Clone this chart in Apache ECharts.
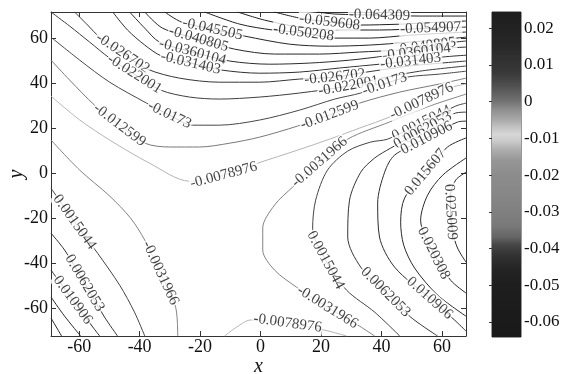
<!DOCTYPE html>
<html>
<head>
<meta charset="utf-8">
<script src="https://cdn.jsdelivr.net/npm/echarts@6/dist/echarts.min.js"></script>
<style>
  html, body { margin: 0; background: #fff; }
  #chart { width: 574px; height: 374px; }
</style>
</head>
<body>
<div id="chart"></div>
<script>
// axis extents and ticks
const xMin = -69.3, xMax = 67.9;
const yMin = -72.4, yMax = 71.6;
const xTicks = [-60, -40, -20, 0, 20, 40, 60];
const yTicks = [-60, -40, -20, 0, 20, 40, 60];

// colour bar
const cbMin = -0.0641, cbMax = 0.0244;
const cbTicks = [-0.06, -0.05, -0.04, -0.03, -0.02, -0.01, 0, 0.01, 0.02];
const cbValues = [-0.0641, -0.05, -0.046, -0.042, -0.039, -0.037, -0.034, -0.03, -0.025, -0.02, -0.016, -0.013,
  -0.011, -0.009, -0.007, -0.005, -0.002, 0, 0.003, 0.005, 0.008, 0.012, 0.015, 0.02, 0.0244];
const cbGrays = [25, 30, 35, 50, 70, 100, 120, 128, 135, 140, 150, 175, 200, 215, 195, 170, 140, 115, 90, 75, 56, 48, 40, 34, 30];

// contour levels, as printed on the chart
const levelText = ['-0.064309', '-0.059608', '-0.054907', '-0.050208', '-0.045505', '-0.040805', '-0.0360104',
  '-0.031403', '-0.026702', '-0.022001', '-0.0173', '-0.012599', '-0.0078976', '-0.0031966', '0.0015044',
  '0.0062053', '0.010906', '0.015607', '0.020308', '0.025009'];

// contour paths, [x, y]
const seg0643 = [[18.8, 71.6], [24.5, 70.7], [39.3, 70.2], [52.6, 69.8], [67.9, 69.8]];
const seg0596 = [[4.6, 71.6], [12.9, 68.9], [22.8, 67.1], [32.7, 65.8], [46.0, 66.2], [59.2, 67.1], [67.9, 67.6]];
const seg0549 = [[-7.6, 71.6], [1.3, 68.0], [12.9, 64.9], [26.1, 63.6], [39.3, 63.6], [56.2, 64.4], [67.9, 64.9]];
const seg0502 = [[-18.5, 71.6], [-6.9, 66.2], [4.0, 63.6], [14.2, 62.4], [24.5, 60.0], [36.0, 60.0], [49.3, 61.3], [67.9, 62.7]];
const seg0455 = [[-31.7, 71.6], [-26.1, 67.1], [-15.9, 64.0], [-5.3, 60.9], [9.6, 57.3], [22.8, 56.4], [36.0, 56.9], [49.3, 58.2], [67.9, 60.4]];
const seg0408 = [[-38.3, 71.6], [-32.4, 64.4], [-20.5, 59.6], [-8.6, 55.1], [4.6, 52.9], [19.5, 52.9], [32.7, 53.8], [45.0, 54.7], [54.5, 56.4], [64.1, 58.2], [67.9, 58.7]];
const seg0361 = [[-43.3, 71.6], [-38.3, 64.4], [-33.4, 58.2], [-22.5, 53.8], [-10.2, 49.8], [3.0, 48.4], [16.2, 48.9], [29.4, 50.2], [41.0, 52.0], [51.6, 53.8], [62.5, 55.6], [67.9, 56.0]];
const seg0314 = [[-48.9, 71.6], [-44.0, 63.6], [-38.3, 56.9], [-32.7, 52.0], [-23.1, 48.9], [-12.9, 45.8], [-0.3, 44.4], [12.9, 44.9], [26.1, 46.7], [39.3, 48.4], [49.6, 49.8], [60.2, 51.6], [67.9, 52.4]];
const seg0267 = [[-61.5, 71.6], [-57.2, 65.8], [-53.2, 60.4], [-45.6, 53.3], [-37.4, 46.2], [-26.8, 42.2], [-13.6, 40.4], [-0.3, 40.4], [12.9, 41.8], [24.5, 42.7], [35.0, 44.9], [49.3, 47.6], [67.9, 49.8]];
const seg0220 = [[-69.3, 71.6], [-63.1, 65.3], [-56.5, 58.2], [-49.9, 51.1], [-41.7, 44.0], [-33.1, 36.9], [-23.5, 33.8], [-13.6, 32.9], [-0.3, 33.8], [12.9, 35.6], [29.1, 38.7], [38.7, 41.8], [52.6, 45.3], [67.9, 47.6]];
const seg0173 = [[-69.3, 60.4], [-59.8, 50.2], [-49.9, 40.4], [-37.7, 31.1], [-30.1, 25.8], [-22.5, 21.3], [-13.6, 21.3], [-0.3, 23.6], [12.9, 28.0], [24.5, 32.9], [33.1, 35.6], [41.0, 39.6], [48.6, 42.7], [59.2, 44.0], [67.9, 45.3]];
const seg0126 = [[-69.3, 50.2], [-63.1, 41.3], [-54.9, 30.2], [-46.6, 21.3], [-38.3, 13.3], [-30.1, 11.6], [-20.2, 11.6], [-10.2, 13.3], [-0.3, 16.0], [12.2, 20.9], [22.8, 25.8], [32.7, 31.1], [46.0, 36.0], [59.2, 39.6], [67.9, 42.2]];
const seg0079a = [[-69.3, 34.2], [-59.8, 23.6], [-49.9, 14.7], [-36.7, 4.4], [-23.5, -3.6], [-12.2, -0.9], [-1.0, 4.4], [12.2, 10.2], [22.8, 15.1], [32.7, 20.0], [43.3, 25.3], [53.2, 32.0], [63.5, 38.2], [67.9, 39.6]];
const seg0079b = [[-11.9, -72.4], [-7.9, -68.4], [-3.3, -65.3], [8.9, -66.7], [21.2, -69.8], [28.4, -72.4]];
const seg0032a = [[-69.3, 14.7], [-59.8, 1.3], [-49.9, -10.2], [-43.0, -20.0], [-38.3, -29.8], [-33.1, -44.4], [-28.1, -59.6], [-27.4, -72.4]];
const seg0032b = [[67.9, 35.1], [55.9, 29.8], [42.6, 22.7], [28.8, 15.1], [19.5, 4.9], [10.6, -6.2], [4.6, -14.2], [0.7, -24.4], [0.7, -34.2], [4.6, -43.1], [11.9, -50.7], [22.1, -59.6], [32.7, -68.0], [37.7, -72.4]];
const seg0015a = [[-69.3, -6.7], [-61.5, -21.8], [-53.9, -35.6], [-46.6, -49.8], [-41.7, -61.8], [-38.3, -72.4]];
const seg0015b = [[67.9, 31.1], [64.5, 29.8], [53.2, 22.2], [42.0, 15.1], [36.4, 13.8], [28.8, 9.8], [22.1, 1.3], [18.2, -12.0], [17.2, -24.4], [21.5, -38.7], [28.4, -52.0], [37.7, -61.8], [46.0, -72.4]];
const seg0062a = [[-69.3, -26.7], [-64.8, -34.2], [-58.2, -48.9], [-51.6, -64.0], [-47.3, -72.4]];
const seg0062b = [[67.9, 27.1], [64.5, 26.7], [53.6, 19.1], [43.0, 11.1], [37.7, 6.7], [33.1, 0.4], [29.4, -12.0], [28.8, -28.4], [33.1, -41.8], [41.3, -52.9], [49.6, -64.0], [58.5, -72.4]];
const seg0109a = [[-69.3, -43.1], [-62.1, -56.4], [-55.5, -68.4], [-53.2, -72.4]];
const seg0109b = [[67.9, 23.1], [65.1, 22.7], [54.9, 15.6], [44.3, 8.0], [41.0, 0.4], [38.7, -13.3], [39.3, -28.4], [44.3, -41.8], [55.9, -55.6], [64.1, -65.3], [67.9, -70.2]];
const seg0156a = [[-69.3, -55.1], [-64.8, -63.6], [-59.5, -72.4]];
const seg0156b = [[67.9, 15.6], [61.8, 11.6], [54.5, 0.4], [47.6, -11.1], [46.3, -21.8], [47.3, -32.0], [50.9, -42.2], [58.5, -54.2], [67.9, -63.6]];
const seg0203a = [[-69.3, -64.4], [-65.8, -72.4]];
const seg0203b = [[67.9, 6.7], [60.2, -0.9], [55.2, -9.8], [52.9, -20.9], [57.2, -35.6], [62.8, -47.6], [67.9, -53.3]];
const seg0250 = [[67.9, 0.4], [64.5, -3.1], [62.8, -9.8], [62.8, -17.3], [63.5, -26.2], [65.1, -33.3], [67.9, -39.6]];

// [level index, path]
const segments = [
  [0, seg0643], [1, seg0596], [2, seg0549], [3, seg0502], [4, seg0455], [5, seg0408], [6, seg0361],
  [7, seg0314], [8, seg0267], [9, seg0220], [10, seg0173], [11, seg0126], [12, seg0079a], [12, seg0079b],
  [13, seg0032a], [13, seg0032b], [14, seg0015a], [14, seg0015b], [15, seg0062a], [15, seg0062b],
  [16, seg0109a], [16, seg0109b], [17, seg0156a], [17, seg0156b], [18, seg0203a], [18, seg0203b], [19, seg0250]
];
// inline labels: [segment index, vertex index]
const labelSpots = [
  [0, 2], [1, 2], [2, 5], [3, 3], [4, 2], [5, 2], [5, 8], [6, 3], [6, 9], [7, 4], [7, 10], [8, 3], [8, 9],
  [9, 4], [9, 10], [10, 4], [10, 11], [11, 3], [11, 10], [12, 5], [12, 11], [13, 3], [14, 5], [15, 4], [15, 11],
  [16, 1], [17, 2], [17, 9], [18, 2], [19, 2], [19, 9], [20, 1], [21, 2], [21, 8], [23, 2], [25, 4], [26, 3]
];

// line grey per level (style)
const lineGray = [30, 30, 32, 34, 36, 40, 44, 48, 54, 62, 72, 120, 180, 130, 68, 52, 44, 40, 40, 40];

const serif = "'Liberation Serif', 'Times New Roman', serif";
const gray = g => 'rgb(' + g + ',' + g + ',' + g + ')';
const frameLine = { color: '#333', width: 1 };

const chart = echarts.init(document.getElementById('chart'));

const cbGradient = new echarts.graphic.LinearGradient(0, 1, 0, 0,
  cbValues.map((v, i) => ({ offset: (v - cbMin) / (cbMax - cbMin), color: gray(cbGrays[i]) })));

const lineSeries = segments.map(([lv, pts]) => ({
  type: 'line', xAxisIndex: 0, yAxisIndex: 0, data: pts,
  smooth: 0.3, symbol: 'none', silent: true, z: 3,
  lineStyle: { width: 1, color: gray(lineGray[lv]) }
}));

const labelSeries = {
  id: 'labels', type: 'scatter', xAxisIndex: 0, yAxisIndex: 0, symbolSize: 1, silent: true, z: 10,
  itemStyle: { color: 'rgba(0,0,0,0)' },
  label: {
    show: true, position: 'inside', fontFamily: serif, fontSize: 15, color: '#111',
    backgroundColor: '#fff', padding: [0, 1]
  },
  data: []
};

chart.setOption({
  animation: false,
  grid: [
    { left: 51, top: 12, width: 415, height: 324, outerBoundsMode: 'none' },
    { left: 492, top: 12, width: 29, height: 325, outerBoundsMode: 'none', show: true, borderColor: '#333', borderWidth: 1 }
  ],
  xAxis: [
    {
      type: 'value', gridIndex: 0, min: xMin, max: xMax,
      axisLine: { show: true, onZero: false, lineStyle: frameLine },
      axisTick: { inside: true, length: 5, customValues: xTicks, lineStyle: frameLine },
      axisLabel: { customValues: xTicks, fontFamily: serif, fontSize: 18, color: '#111', margin: 2 },
      splitLine: { show: false },
      name: 'x', nameLocation: 'middle', nameGap: 21, nameMoveOverlap: false,
      nameTextStyle: { fontFamily: serif, fontStyle: 'italic', fontSize: 20, color: '#111' }
    },
    {
      type: 'value', gridIndex: 0, position: 'top', min: xMin, max: xMax,
      axisLine: { show: true, onZero: false, lineStyle: frameLine },
      axisTick: { inside: true, length: 5, customValues: xTicks, lineStyle: frameLine },
      axisLabel: { show: false }, splitLine: { show: false }
    },
    { type: 'value', gridIndex: 1, min: 0, max: 1, show: false }
  ],
  yAxis: [
    {
      type: 'value', gridIndex: 0, min: yMin, max: yMax,
      axisLine: { show: true, onZero: false, lineStyle: frameLine },
      axisTick: { inside: true, length: 5, customValues: yTicks, lineStyle: frameLine },
      axisLabel: { customValues: yTicks, fontFamily: serif, fontSize: 18, color: '#111', margin: 3 },
      splitLine: { show: false },
      name: 'y', nameLocation: 'middle', nameRotate: 90, nameGap: 24, nameMoveOverlap: false,
      nameTextStyle: { fontFamily: serif, fontStyle: 'italic', fontSize: 20, color: '#111' }
    },
    {
      type: 'value', gridIndex: 0, position: 'right', min: yMin, max: yMax,
      axisLine: { show: true, onZero: false, lineStyle: frameLine },
      axisTick: { inside: true, length: 5, customValues: yTicks, lineStyle: frameLine },
      axisLabel: { show: false }, splitLine: { show: false }
    },
    {
      type: 'value', gridIndex: 1, position: 'right', min: cbMin, max: cbMax,
      axisLine: { show: false },
      axisTick: { inside: true, length: 3, customValues: cbTicks, lineStyle: frameLine },
      axisLabel: {
        customValues: cbTicks, fontFamily: serif, fontSize: 17, color: '#111', margin: 3,
        formatter: v => String(Math.round(v * 100) / 100)
      },
      splitLine: { show: false }
    },
    {
      type: 'value', gridIndex: 1, position: 'left', min: cbMin, max: cbMax,
      axisLine: { show: false },
      axisTick: { inside: true, length: 3, customValues: cbTicks, lineStyle: frameLine },
      axisLabel: { show: false }, splitLine: { show: false }
    }
  ],
  series: [
    ...lineSeries,
    labelSeries,
    {
      type: 'custom', xAxisIndex: 2, yAxisIndex: 2, silent: true, z: 1,
      data: [[0, cbMin, cbMax]],
      renderItem: (params, api) => {
        const lo = api.coord([0, api.value(1)]);
        const hi = api.coord([1, api.value(2)]);
        return {
          type: 'rect',
          shape: { x: lo[0], y: hi[1], width: hi[0] - lo[0], height: lo[1] - hi[1] },
          style: { fill: cbGradient }
        };
      }
    }
  ]
});

// label angle follows the contour at its spot
const labelItems = labelSpots.map(([s, v]) => {
  const [lv, pts] = segments[s];
  const a = chart.convertToPixel({ xAxisIndex: 0, yAxisIndex: 0 }, pts[Math.max(0, v - 1)]);
  const b = chart.convertToPixel({ xAxisIndex: 0, yAxisIndex: 0 }, pts[Math.min(pts.length - 1, v + 1)]);
  let ang = -Math.atan2(b[1] - a[1], b[0] - a[0]) * 180 / Math.PI;
  if (ang > 90) ang -= 180;
  if (ang <= -90) ang += 180;
  return { value: pts[v], label: { formatter: levelText[lv], rotate: ang } };
});
chart.setOption({ series: [{ id: 'labels', data: labelItems }] });
</script>
</body>
</html>
